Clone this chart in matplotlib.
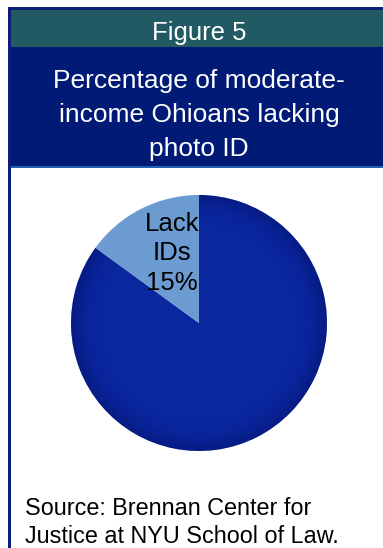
import numpy as np
import matplotlib.pyplot as plt
from matplotlib.patches import Rectangle

plt.rcParams['font.family'] = ['Liberation Sans', 'DejaVu Sans']

fig_no = "Figure 5"
title_lines = ["Percentage of moderate-", "income Ohioans lacking", "photo ID"]
source_lines = ["Source: Brennan Center for", "Justice at NYU School of Law."]

categories = ["Have IDs", "Lack IDs"]
shares = [85, 15]
slice_colors = ["#0a27a0", "#6b9bd0"]

W, H = 383, 548
fig = plt.figure(figsize=(W / 100, H / 100), dpi=100)
fig.patch.set_facecolor("white")

# background panel in pixel coordinates (y down)
bg = fig.add_axes([0, 0, 1, 1])
bg.set_xlim(0, W)
bg.set_ylim(H, 0)
bg.axis("off")

bg.add_patch(Rectangle((8, 7), W - 8, 2.5, color="#0b1f7a", lw=0))
bg.add_patch(Rectangle((8, 7), 2.5, H - 7, color="#0b1f7a", lw=0))
bg.add_patch(Rectangle((10.5, 9.5), W, 37.5, color="#225a63", lw=0))
bg.add_patch(Rectangle((10.5, 47), W, 119, color="#001a75", lw=0))
bg.add_patch(Rectangle((10.5, 165.5), W, 2, color="#1f62b0", lw=0))

bg.text(199, 33, fig_no, color="white", fontsize=18.5, ha="center", va="center")
for i, line in enumerate(title_lines):
    bg.text(199, 81 + i * 34, line, color="white", fontsize=19,
            ha="center", va="center")
for i, line in enumerate(source_lines):
    bg.text(25, 515 + i * 28, line, color="black", fontsize=16.8,
            ha="left", va="baseline")

# pie: centre (199, 323), radius 128 px
cx, cy, r = 199, 323, 128
ax = fig.add_axes([(cx - r) / W, 1 - (cy + r) / H, 2 * r / W, 2 * r / H])
wedges, _ = ax.pie(shares, colors=slice_colors, startangle=90 + shares[1] / 100 * 360,
                   counterclock=True, radius=1)
ax.set_xlim(-1, 1)
ax.set_ylim(-1, 1)
ax.set_aspect("equal")
ax.axis("off")

# slight darkening toward the rim of the large slice
yy, xx = np.mgrid[-1:1:300j, -1:1:300j]
rr = np.sqrt(xx ** 2 + yy ** 2)
shade = np.zeros((300, 300, 4))
shade[..., 2] = 0.25
shade[..., 3] = np.clip((rr - 0.75) / 0.25, 0, 1) ** 2 * 0.3
im = ax.imshow(shade, extent=(-1, 1, -1, 1), origin="lower", zorder=3)
im.set_clip_path(wedges[0])

# slice label
ax.text(-0.21, 0.545, "%s\n%d%%" % ("Lack\nIDs", shares[1]), color="black",
        fontsize=18.5, ha="center", va="center", linespacing=1.3, zorder=5)

fig.savefig("out.png", dpi=100)
